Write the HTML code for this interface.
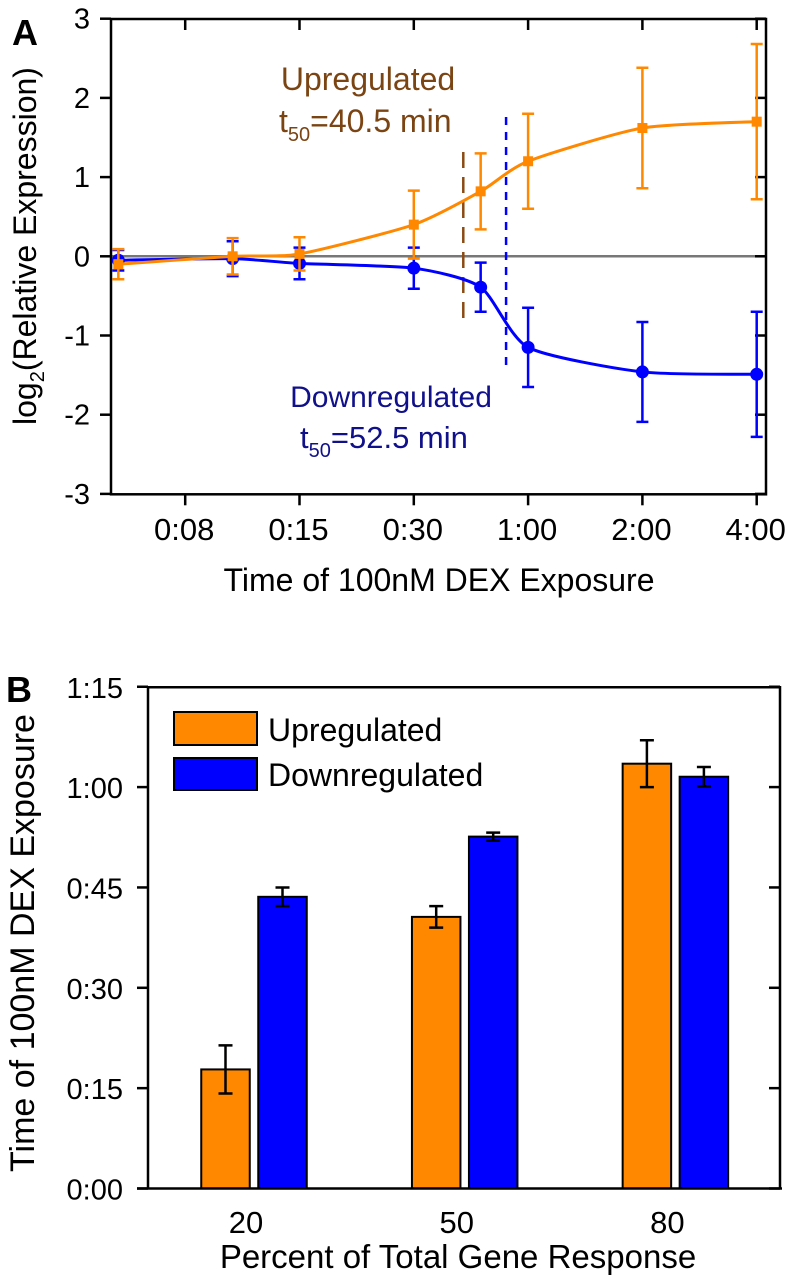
<!DOCTYPE html>
<html><head><meta charset="utf-8"><style>
html,body{margin:0;padding:0;background:#fff}
svg{display:block;font-family:"Liberation Sans",Arial,sans-serif}
</style></head><body>
<svg id="fig" width="789" height="1280" viewBox="0 0 789 1280" xmlns="http://www.w3.org/2000/svg">
<g id="panelA"></g>
<g id="panelB"></g>
</svg>
<script>
// ===== Panel A data =====
const timesMin = [5, 10, 15, 30, 45, 60, 120, 240];
const upValues = [-0.1, 0.0, 0.03, 0.4, 0.82, 1.2, 1.62, 1.7];
const upErrors = [0.19, 0.23, 0.21, 0.43, 0.48, 0.6, 0.76, 0.98];
const downValues = [-0.05, -0.03, -0.09, -0.15, -0.39, -1.15, -1.46, -1.49];
const downErrors = [0.13, 0.22, 0.2, 0.26, 0.31, 0.5, 0.63, 0.79];
const aXTickMinutes = [7.5, 15, 30, 60, 120, 240];
const aXTickLabels = ["0:08", "0:15", "0:30", "1:00", "2:00", "4:00"];
const aYTicks = [-3, -2, -1, 0, 1, 2, 3];
const t50Up = 40.5;
const t50Down = 52.5;
// ===== Panel B data =====
const bCategories = ["20", "50", "80"];
const bUpMinutes = [17.8, 40.6, 63.5];
const bUpErr = [3.6, 1.6, 3.5];
const bDownMinutes = [43.6, 52.6, 61.55];
const bDownErr = [1.4, 0.6, 1.45];
const bYTicks = [0, 15, 30, 45, 60, 75];
const bYTickLabels = ["0:00", "0:15", "0:30", "0:45", "1:00", "1:15"];

const NS = "http://www.w3.org/2000/svg";
function mk(parent, tag, attrs, text) {
  const e = document.createElementNS(NS, tag);
  for (const k in attrs) e.setAttribute(k, attrs[k]);
  if (text !== undefined) e.textContent = text;
  parent.appendChild(e);
  return e;
}
const ORANGE = "#ff8800", BLUE = "#0000ff";

// ---------- Panel A ----------
const A = document.getElementById("panelA");
const aL = 111, aR = 766, aT = 19, aB = 494.3;
const ax = t => 299.5 + 114.3 * Math.log2(t / 15);
const ay = v => 256.3 - 79.2 * v;

let e;
e = mk(A, "text", {x: 12, y: 45, "font-size": 36, "font-weight": "bold"}, "A");



e = mk(A, "line", {x1: aL, x2: aR, y1: ay(0), y2: ay(0), stroke: "#777", "stroke-width": 2.5});



e = mk(A, "rect", {x: aL, y: aT, width: aR - aL, height: aB - aT, fill: "none", stroke: "#000", "stroke-width": 2.5});



aYTicks.forEach(v => {
  const y = ay(v);
  let t = mk(A, "line", {x1: aL - 11, x2: aL, y1: y, y2: y, stroke: "#000", "stroke-width": 2.5});
  
  
  t = mk(A, "line", {x1: aR - 11, x2: aR, y1: y, y2: y, stroke: "#000", "stroke-width": 2.5});
  
  
  t = mk(A, "text", {x: 90, y: y + 10, "font-size": 29, "text-anchor": "end"}, String(v));
  
  
});
aXTickMinutes.forEach((m, i) => {
  const x = ax(m);
  let t = mk(A, "line", {x1: x, x2: x, y1: aB, y2: aB + 11, stroke: "#000", "stroke-width": 2.5});
  
  
  t = mk(A, "line", {x1: x, x2: x, y1: aT, y2: aT + 11, stroke: "#000", "stroke-width": 2.5});
  
  
  t = mk(A, "text", {x: x - 1, y: 540, "font-size": 31, "text-anchor": "middle"}, aXTickLabels[i]);
  
  
});
e = mk(A, "text", {x: 439, y: 591, "font-size": 32, "text-anchor": "middle"}, "Time of 100nM DEX Exposure");


e = mk(A, "text", {x: 0, y: 0, "font-size": 32, "text-anchor": "middle", transform: "translate(36,246) rotate(-90)"});


e.innerHTML = 'log<tspan font-size="20" dy="8">2</tspan><tspan dy="-8">(Relative Expression)</tspan>';

// t50 lines
e = mk(A, "line", {x1: ax(t50Up), x2: ax(t50Up), y1: 152, y2: 318, stroke: "#8b4a14", "stroke-width": 2.5, "stroke-dasharray": "16,9"});


e = mk(A, "line", {x1: ax(t50Down), x2: ax(t50Down), y1: 117, y2: 369, stroke: BLUE, "stroke-width": 2.5, "stroke-dasharray": "8,7"});



function smoothPath(pts) {
  let d = "M" + pts[0][0] + "," + pts[0][1];
  const k = 9;
  for (let i = 0; i < pts.length - 1; i++) {
    const p0 = pts[Math.max(0, i - 1)], p1 = pts[i], p2 = pts[i + 1], p3 = pts[Math.min(pts.length - 1, i + 2)];
    const c1x = p1[0] + (p2[0] - p0[0]) / k, c1y = p1[1] + (p2[1] - p0[1]) / k;
    const c2x = p2[0] - (p3[0] - p1[0]) / k, c2y = p2[1] - (p3[1] - p1[1]) / k;
    d += " C" + c1x + "," + c1y + " " + c2x + "," + c2y + " " + p2[0] + "," + p2[1];
  }
  return d;
}
function series(vals, errs, color, name, marker) {
  const g = mk(A, "g", {});
  
  
  const pts = timesMin.map((t, i) => [ax(t), ay(vals[i])]);
  let p = mk(g, "path", {d: smoothPath(pts), fill: "none", stroke: color, "stroke-width": 3});
  
  
  timesMin.forEach((t, i) => {
    const x = ax(t), y1 = ay(vals[i] + errs[i]), y2 = ay(vals[i] - errs[i]);
    const eb = mk(g, "path", {d: `M${x},${y1}V${y2}M${x - 6},${y1}H${x + 6}M${x - 6},${y2}H${x + 6}`, stroke: color, "stroke-width": 2.5, fill: "none"});
    
    
    let m;
    if (marker === "circle") m = mk(g, "circle", {cx: x, cy: ay(vals[i]), r: 6.5, fill: color});
    else m = mk(g, "rect", {x: x - 5, y: ay(vals[i]) - 5, width: 10, height: 10, fill: color});
    
    
  });
}
series(downValues, downErrors, BLUE, "downregulated", "circle");
series(upValues, upErrors, ORANGE, "upregulated", "square");

e = mk(A, "text", {x: 368, y: 90, "font-size": 32, fill: "#7b4413", "text-anchor": "middle"}, "Upregulated");


e = mk(A, "text", {x: 279, y: 132, "font-size": 32, fill: "#7b4413"});


e.innerHTML = 't<tspan font-size="20" dy="9">50</tspan><tspan dy="-9">=40.5 min</tspan>';
e = mk(A, "text", {x: 391, y: 407, "font-size": 30, fill: "#10108a", "text-anchor": "middle"}, "Downregulated");


e = mk(A, "text", {x: 300, y: 448, "font-size": 31, fill: "#10108a"});


e.innerHTML = 't<tspan font-size="20" dy="9">50</tspan><tspan dy="-9">=52.5 min</tspan>';

// ---------- Panel B ----------
const B = document.getElementById("panelB");
const bL = 148, bR = 780, bT = 687.3, bBot = 1188.5;
const by = m => bBot - 6.69 * m;
const groupX = i => 254 + 210.7 * i;
const barW = 48.5, barGap = 8.5;

e = mk(B, "text", {x: 6, y: 702, "font-size": 36, "font-weight": "bold"}, "B");



bCategories.forEach((c, i) => {
  const cx = groupX(i);
  const ux = cx - barGap / 2 - barW, dx = cx + barGap / 2;
  let r = mk(B, "rect", {x: ux, y: by(bUpMinutes[i]), width: barW, height: bBot - by(bUpMinutes[i]), fill: ORANGE, stroke: "#000", "stroke-width": 2});
  
  
  r = mk(B, "rect", {x: dx, y: by(bDownMinutes[i]), width: barW, height: bBot - by(bDownMinutes[i]), fill: BLUE, stroke: "#000", "stroke-width": 2});
  
  
  [[ux + barW / 2, bUpMinutes[i], bUpErr[i], 'up'], [dx + barW / 2, bDownMinutes[i], bDownErr[i], 'down']].forEach(q => {
    const y1 = by(q[1] + q[2]), y2 = by(q[1] - q[2]), x = q[0];
    const eb = mk(B, "path", {d: `M${x},${y1}V${y2}M${x - 7},${y1}H${x + 7}M${x - 7},${y2}H${x + 7}`, stroke: "#000", "stroke-width": 2.5, fill: "none"});
    
    
  });
  const t = mk(B, "text", {x: cx - 8, y: 1233, "font-size": 31, "text-anchor": "middle"}, c);
  
  
});

e = mk(B, "path", {d: `M${bL},${bBot}V${bT}H${bR}V${bBot}M${bL - 11},${bBot}H${bR + 2}`, fill: "none", stroke: "#000", "stroke-width": 2.5});



bYTicks.forEach((m, i) => {
  const y = by(m);
  let t = mk(B, "line", {x1: bL - 11, x2: bL, y1: y, y2: y, stroke: "#000", "stroke-width": 2.5});
  
  
  t = mk(B, "line", {x1: bR - 11, x2: bR, y1: y, y2: y, stroke: "#000", "stroke-width": 2.5});
  
  
  t = mk(B, "text", {x: 123, y: y + 11, "font-size": 29, "text-anchor": "end"}, bYTickLabels[i]);
  
  
});

e = mk(B, "text", {x: 458, y: 1268, "font-size": 33, "text-anchor": "middle"}, "Percent of Total Gene Response");


e = mk(B, "text", {x: 0, y: 0, "font-size": 34, "text-anchor": "middle", transform: "translate(34,943) rotate(-90)"}, "Time of 100nM DEX Exposure");



// legend
e = mk(B, "rect", {x: 174, y: 712, width: 83, height: 33, fill: ORANGE, stroke: "#000", "stroke-width": 2});


e = mk(B, "text", {x: 268, y: 741, "font-size": 32}, "Upregulated");


e = mk(B, "rect", {x: 174, y: 758, width: 83, height: 32, fill: BLUE, stroke: "#000", "stroke-width": 2});


e = mk(B, "text", {x: 268, y: 786, "font-size": 32}, "Downregulated");


</script>
</body></html>
